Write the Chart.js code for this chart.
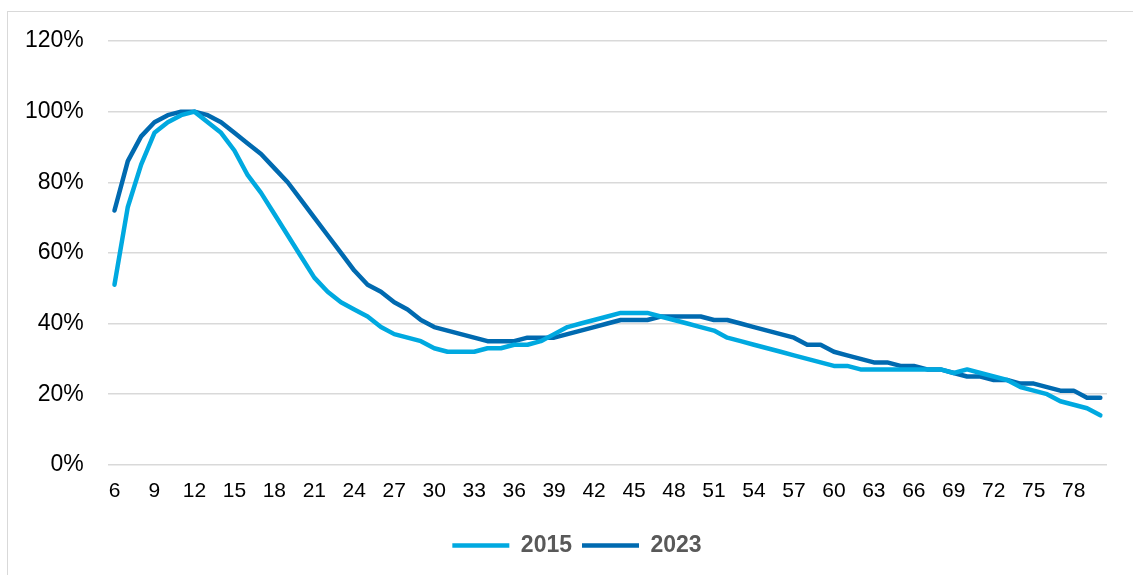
<!DOCTYPE html>
<html>
<head>
<meta charset="utf-8">
<script src="https://cdn.jsdelivr.net/npm/chart.js@4/dist/chart.umd.min.js"></script>
<style>
  body { margin: 0; background: #fff; }
  #frame {
    position: absolute; left: 7px; top: 11px; width: 1200px; height: 600px;
    border: 1.5px solid #d9d9d9;
  }
  #wrap { position: absolute; left: 0; top: 0; width: 1133px; height: 575px; }
</style>
</head>
<body>
<div id="frame"></div>
<div id="wrap"><canvas id="chart"></canvas></div>
<script>
// ages 6..80
const ages = [
  6, 7, 8, 9, 10, 11, 12, 13, 14, 15, 16, 17, 18, 19, 20, 21, 22, 23, 24, 25,
  26, 27, 28, 29, 30, 31, 32, 33, 34, 35, 36, 37, 38, 39, 40, 41, 42, 43, 44, 45,
  46, 47, 48, 49, 50, 51, 52, 53, 54, 55, 56, 57, 58, 59, 60, 61, 62, 63, 64, 65,
  66, 67, 68, 69, 70, 71, 72, 73, 74, 75, 76, 77, 78, 79, 80
];

const values2015 = [
  51, 73, 85, 94, 97, 99, 100, 97, 94, 89, 82, 77, 71, 65, 59, 53, 49, 46, 44, 42,
  39, 37, 36, 35, 33, 32, 32, 32, 33, 33, 34, 34, 35, 37, 39, 40, 41, 42, 43, 43,
  43, 42, 41, 40, 39, 38, 36, 35, 34, 33, 32, 31, 30, 29, 28, 28, 27, 27, 27, 27,
  27, 27, 27, 26, 27, 26, 25, 24, 22, 21, 20, 18, 17, 16, 14
];

const values2023 = [
  72, 86, 93, 97, 99, 100, 100, 99, 97, 94, 91, 88, 84, 80, 75, 70, 65, 60, 55, 51,
  49, 46, 44, 41, 39, 38, 37, 36, 35, 35, 35, 36, 36, 36, 37, 38, 39, 40, 41, 41,
  41, 42, 42, 42, 42, 41, 41, 40, 39, 38, 37, 36, 34, 34, 32, 31, 30, 29, 29, 28,
  28, 27, 27, 26, 25, 25, 24, 24, 23, 23, 22, 21, 21, 19, 19
];

const seriesNames = ["2015", "2023"];
const seriesColors = ["#00a9e0", "#006ab0"];
const yTicks = [0, 20, 40, 60, 80, 100, 120];

const font = "'Liberation Sans', Arial, sans-serif";

const makeSet = (label, data, color) => ({
  label,
  data,
  borderColor: color,
  backgroundColor: color,
  borderWidth: 4.5,
  borderCapStyle: "round",
  borderJoinStyle: "round",
  pointRadius: 0,
  pointHoverRadius: 0,
  tension: 0,
  fill: false,
});

// legend sits a little right of the canvas centre in the original
const legendShift = {
  id: "legendShift",
  afterLayout(chart) {
    const lg = chart.legend;
    if (!lg) return;
    lg.left += 23;
    lg.right += 23;
  },
};

new Chart(document.getElementById("chart"), {
  type: "line",
  data: {
    labels: ages.map(String),
    datasets: [
      makeSet(seriesNames[0], values2015, seriesColors[0]),
      makeSet(seriesNames[1], values2023, seriesColors[1]),
    ],
  },
  plugins: [legendShift],
  options: {
    responsive: true,
    maintainAspectRatio: false,
    animation: false,
    layout: { padding: { left: 1, right: 26, top: 41, bottom: 8 } },
    plugins: {
      tooltip: { enabled: false },
      legend: {
        display: true,
        position: "bottom",
        labels: {
          usePointStyle: true,
          pointStyle: "line",
          pointStyleWidth: 57,
          padding: 10,
          color: "#595959",
          font: { family: font, size: 23, weight: "bold" },
        },
      },
    },
    scales: {
      x: {
        type: "category",
        offset: true,
        grid: { display: false, drawTicks: false },
        border: { display: false },
        afterFit: (axis) => { axis.height += 6; },
        ticks: {
          autoSkip: false,
          maxRotation: 0,
          padding: 14,
          color: "#000",
          font: { family: font, size: 21 },
          callback: function (v, i) {
            return (ages[i] - 6) % 3 === 0 ? String(ages[i]) : "";
          },
        },
      },
      y: {
        min: 0,
        max: 120,
        afterBuildTicks: (axis) => { axis.ticks = yTicks.map((v) => ({ value: v })); },
        grid: { color: "#d9d9d9", lineWidth: 1.5, drawTicks: false },
        border: { display: false },
        ticks: {
          padding: 24,
          color: "#000",
          font: { family: font, size: 23 },
          callback: (v) => v + "%",
        },
      },
    },
  },
});
</script>
</body>
</html>
